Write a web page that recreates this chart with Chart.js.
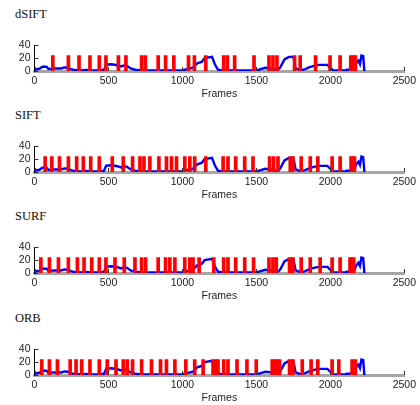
<!DOCTYPE html>
<html>
<head>
<meta charset="utf-8">
<script src="https://cdn.jsdelivr.net/npm/chart.js@4.4.0/dist/chart.umd.min.js"></script>
<style>
  html, body { margin: 0; padding: 0; background: #fff; }
  #wrap { position: relative; width: 420px; height: 405px; overflow: hidden; }
  .ttl { position: absolute; left: 15px; font-family: "Liberation Serif", "DejaVu Serif", serif; font-size: 12.5px; color: #111; line-height: 14px; }
  canvas { position: absolute; left: 0; }
</style>
</head>
<body>
<div id="wrap"></div>
<script>
// ---- data ----
const panelTitles = ["dSIFT", "SIFT", "SURF", "ORB"];

const blueFrames = [0, 16, 34, 49, 61, 83, 94, 112, 135, 180, 202, 225, 247, 270, 315, 350, 380, 450, 470, 485, 520, 560, 585, 610, 625, 650, 680, 720, 1000, 1030, 1070, 1100, 1130, 1150, 1200, 1220, 1240, 1270, 1500, 1530, 1560, 1600, 1640, 1660, 1690, 1720, 1750, 1765, 1800, 1830, 1860, 1890, 1920, 1980, 2000, 2020, 2100, 2110, 2160, 2175, 2190, 2200, 2210, 2222, 2230];
const blueValues = [1, 3, 3.5, 6, 7, 6.5, 3, 3.5, 4, 4, 5.5, 5, 3, 1.5, 1, 1.5, 0.8, 0.8, 2, 10, 10.5, 9, 7, 9, 8, 4, 2, 0.8, 0.8, 3, 5, 12, 14, 20, 22, 10, 2, 0.8, 0.8, 3, 5, 4, 1, 5, 18, 22, 22, 4, 1, 3, 6, 8, 9.5, 9.5, 5, 0.8, 0.8, 2, 2.5, 12, 16, 11, 24, 23, 0];

const markerValue = 24;
const dsiftKeys = [124, 229, 301, 375, 438, 483, 567, 618, 724, 749, 836, 886, 942, 1041, 1081, 1158, 1279, 1304, 1353, 1484, 1585, 1612, 1639, 1758, 1796, 1900, 1998, 2066, 2138, 2156, 2169];
const siftKeys = [72, 117, 169, 229, 285, 330, 380, 438, 526, 600, 663, 713, 740, 780, 841, 892, 926, 960, 1016, 1050, 1083, 1158, 1275, 1308, 1360, 1421, 1477, 1589, 1616, 1646, 1729, 1747, 1803, 1864, 1915, 2012, 2066, 2140, 2151, 2163];
const surfKeys = [43, 101, 162, 229, 290, 335, 387, 438, 483, 544, 607, 679, 724, 751, 836, 886, 915, 949, 1016, 1050, 1072, 1113, 1212, 1279, 1308, 1360, 1421, 1481, 1585, 1612, 1634, 1724, 1747, 1803, 1864, 1931, 2012, 2066, 2133, 2147, 2158];
const orbKeys = [49, 101, 155, 241, 281, 319, 375, 438, 492, 551, 600, 627, 663, 724, 791, 852, 892, 949, 1023, 1083, 1140, 1207, 1225, 1241, 1279, 1308, 1369, 1436, 1499, 1607, 1623, 1639, 1657, 1724, 1747, 1810, 1870, 1915, 2012, 2057, 2147, 2169];
const keySets = [dsiftKeys, siftKeys, surfKeys, orbKeys];

const xTicks = [0, 500, 1000, 1500, 2000, 2500];
const yTicks = [0, 20, 40];
const xLabel = "Frames";

// ---- drawing ----
const panelBase = [0, 101, 202, 303.5];
const wrap = document.getElementById('wrap');

const inwardTicks = {
  id: 'inwardTicks',
  afterDatasetsDraw(chart) {
    const {ctx, chartArea, scales} = chart;
    ctx.save();
    ctx.lineWidth = 1;
    ctx.strokeStyle = '#333';
    ctx.beginPath();
    xTicks.forEach(v => {
      const px = Math.round(scales.x.getPixelForValue(v)) + 0.5;
      ctx.moveTo(px, chartArea.bottom);
      ctx.lineTo(px, chartArea.bottom - 4);
    });
    yTicks.forEach(v => {
      const py = Math.round(scales.y.getPixelForValue(v)) + 0.5;
      ctx.moveTo(chartArea.left, py);
      ctx.lineTo(chartArea.left + 4, py);
    });
    ctx.stroke();
    ctx.restore();
  }
};

const tickFont = { family: 'Liberation Sans, Arial, sans-serif', size: 10.5 };

panelTitles.forEach((t, k) => {
  const base = panelBase[k];
  const ttl = document.createElement('div');
  ttl.className = 'ttl';
  ttl.style.top = (base + 7) + 'px';
  ttl.textContent = t;
  wrap.appendChild(ttl);

  const cv = document.createElement('canvas');
  cv.width = 420; cv.height = 66;
  cv.style.width = '420px'; cv.style.height = '66px';
  cv.style.top = (base + 35) + 'px';
  wrap.appendChild(cv);

  const lineData = blueFrames.map((f, i) => ({x: f, y: blueValues[i]}));
  const barData = keySets[k].map(f => ({x: f, y: markerValue}));

  new Chart(cv, {
    type: 'bar',
    data: {
      datasets: [
        { type: 'bar', data: barData, backgroundColor: '#ff0000', borderWidth: 0, barThickness: 3, order: 0 },
        { type: 'line', data: lineData, borderColor: '#0000ff', borderWidth: 2.4, pointRadius: 0, tension: 0, fill: false, order: 1 }
      ]
    },
    options: {
      responsive: false,
      animation: false,
      events: [],
      layout: { padding: { top: 7, right: 15, left: 0, bottom: 0 } },
      plugins: { legend: { display: false }, tooltip: { enabled: false }, title: { display: false } },
      scales: {
        x: {
          type: 'linear', min: 0, max: 2500, offset: false,
          afterBuildTicks: s => { s.ticks = xTicks.map(v => ({value: v})); },
          afterFit: s => { s.height = 30; },
          grid: { display: false, drawTicks: false },
          border: { display: true, color: '#a6a6a6', width: 3 },
          ticks: { padding: 4, color: '#222', font: tickFont, maxRotation: 0, autoSkip: false, callback: v => String(v) },
          title: { display: true, text: xLabel, color: '#222', padding: { top: 0, bottom: 1 }, font: tickFont }
        },
        y: {
          type: 'linear', min: 0, max: 40,
          afterBuildTicks: s => { s.ticks = yTicks.map(v => ({value: v})); },
          afterFit: s => { s.width = 34.5; },
          grid: { display: false, drawTicks: false },
          border: { display: true, color: '#000', width: 1 },
          ticks: { padding: 4, color: '#222', font: tickFont, autoSkip: false, callback: v => String(v) }
        }
      }
    },
    plugins: [inwardTicks]
  });
});
</script>
</body>
</html>
